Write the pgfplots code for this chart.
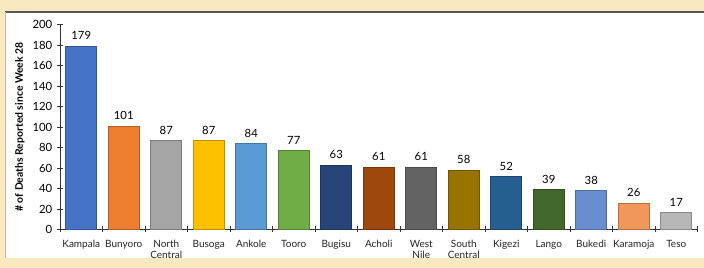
\documentclass[border=0pt]{standalone}
\usepackage{pgfplots}
\pgfplotsset{compat=1.18}
\usepackage{fontspec}
\setmainfont{Lato}
\definecolor{bgc}{HTML}{FAE8BF}
\definecolor{c1}{HTML}{4472C4}
\definecolor{c2}{HTML}{ED7D31}
\definecolor{c3}{HTML}{A5A5A5}
\definecolor{c4}{HTML}{FFC000}
\definecolor{c5}{HTML}{5B9BD5}
\definecolor{c6}{HTML}{70AD47}
\definecolor{c7}{HTML}{264478}
\definecolor{c8}{HTML}{9E480E}
\definecolor{c9}{HTML}{636363}
\definecolor{c10}{HTML}{997300}
\definecolor{c11}{HTML}{255E91}
\definecolor{c12}{HTML}{43682B}
\definecolor{c13}{HTML}{698ED0}
\definecolor{c14}{HTML}{F1975A}
\definecolor{c15}{HTML}{B7B7B7}
\pgfplotsset{mybar/.style={ybar, bar width=23.25pt, bar shift=0pt, fill=#1, draw=#1!75!black, line width=0.4pt,
  nodes near coords, nodes near coords style={font=\fontsize{8.5pt}{9pt}\selectfont, text=black, yshift=1pt}}}
\begin{document}
\begin{tikzpicture}
\useasboundingbox (0,0) rectangle (528pt,201pt);
\fill[bgc] (0,0) rectangle (528pt,201pt);
\fill[white] (3.75pt,7.5pt) rectangle (528pt,192pt);
\draw[gray!70!black,line width=1pt] (3.75pt,192pt) -- (528pt,192pt);
\draw[bgc!80!black,line width=0.4pt] (3.75pt,7.5pt) -- (3.75pt,192pt);
\begin{axis}[
  at={(45pt,28.875pt)}, anchor=south west,
  scale only axis, width=478.125pt, height=153.75pt,
  xmin=-0.5, xmax=14.5, ymin=0, ymax=200,
  axis x line=bottom, axis y line=left,
  axis line style={-, black!80, line width=0.6pt},
  ytick={0,20,...,200},
  xtick={0,...,14},
  xticklabels={Kampala,Bunyoro,North\\Central,Busoga,Ankole,Tooro,Bugisu,Acholi,West\\Nile,South\\Central,Kigezi,Lango,Bukedi,Karamoja,Teso},
  x tick label style={align=center, font=\fontsize{7.5pt}{8.5pt}\selectfont, text=black!85, yshift=-2pt},
  y tick label style={font=\fontsize{8.5pt}{9pt}\selectfont},
  major x tick style={draw=none},
  minor xtick={-0.5,0.5,...,14.5},
  tick align=center,
  major tick length=4.5pt, minor tick length=4.5pt,
  tick style={black!80, line width=0.5pt},
  ylabel={\bfseries \# of Deaths Reported since Week 28},
  ylabel style={at={(axis description cs:-0.063,0.5)}, anchor=center, font=\fontsize{7.8pt}{8pt}\selectfont},
  /pgf/number format/assume math mode=true,
  enlarge x limits=false,
  clip=false,
]
\addplot[mybar=c1] coordinates {(0,179)};
\addplot[mybar=c2] coordinates {(1,101)};
\addplot[mybar=c3] coordinates {(2,87)};
\addplot[mybar=c4] coordinates {(3,87)};
\addplot[mybar=c5] coordinates {(4,84)};
\addplot[mybar=c6] coordinates {(5,77)};
\addplot[mybar=c7] coordinates {(6,63)};
\addplot[mybar=c8] coordinates {(7,61)};
\addplot[mybar=c9] coordinates {(8,61)};
\addplot[mybar=c10] coordinates {(9,58)};
\addplot[mybar=c11] coordinates {(10,52)};
\addplot[mybar=c12] coordinates {(11,39)};
\addplot[mybar=c13] coordinates {(12,38)};
\addplot[mybar=c14] coordinates {(13,26)};
\addplot[mybar=c15] coordinates {(14,17)};
\end{axis}
\end{tikzpicture}
\end{document}
